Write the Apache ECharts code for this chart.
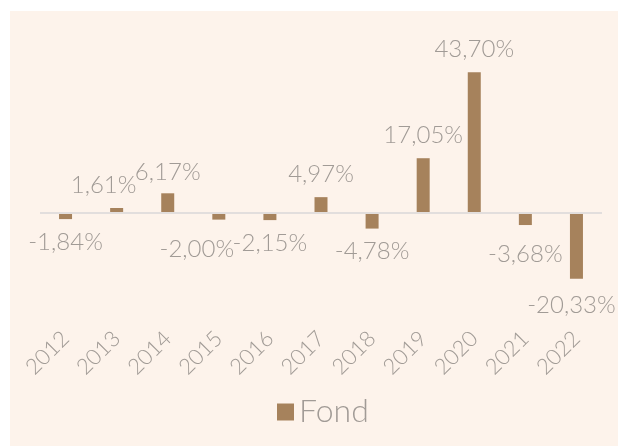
<!DOCTYPE html>
<html>
<head>
<meta charset="utf-8">
<script src="https://cdn.jsdelivr.net/npm/echarts@6/dist/echarts.min.js"></script>
<style>
  html, body { margin: 0; padding: 0; background: #fff; }
  #main { width: 618px; height: 446px; }
</style>
</head>
<body>
<div id="main"></div>
<script>
// data
var years = ['2012', '2013', '2014', '2015', '2016', '2017', '2018', '2019', '2020', '2021', '2022'];
var fond = [-1.84, 1.61, 6.17, -2.00, -2.15, 4.97, -4.78, 17.05, 43.70, -3.68, -20.33];

var textColor = '#a19b96';
var barColor = '#a6825c';

// a few labels were nudged by hand in the original
var labelOffsets = {1: [-13, 0], 2: [0, 2], 3: [-22, 7], 9: [0, 6], 10: [-5, 4]};

var chart = echarts.init(document.getElementById('main'));

var option = {
  backgroundColor: '#fff',
  graphic: [{
    type: 'rect',
    z: -10,
    shape: {x: 10, y: 11, width: 608, height: 435},
    style: {fill: '#fdf3eb'}
  }],
  textStyle: {fontFamily: 'Lato', fontWeight: 300},
  grid: {left: 40, right: 16, top: 52, bottom: 120},
  legend: {
    data: ['Fond'],
    left: 272,
    top: 391,
    itemWidth: 17,
    itemHeight: 17,
    itemGap: 8,
    icon: 'rect',
    textStyle: {color: textColor, fontSize: 32, fontFamily: 'Lato', fontWeight: 300}
  },
  xAxis: {
    type: 'category',
    data: years,
    axisLine: {show: false},
    axisTick: {show: false},
    axisLabel: {
      rotate: 45,
      interval: 0,
      margin: 9,
      color: textColor,
      fontSize: 22,
      fontFamily: 'Lato',
      fontWeight: 300
    }
  },
  yAxis: {
    type: 'value',
    min: -35,
    max: 50,
    show: false,
    splitLine: {show: false}
  },
  series: [{
    name: 'Fond',
    type: 'bar',
    barWidth: 13,
    itemStyle: {color: barColor},
    data: fond.map(function (v, i) {
      var item = {value: v};
      if (labelOffsets[i]) item.label = {offset: labelOffsets[i]};
      return item;
    }),
    label: {
      show: true,
      position: 'top',
      distance: 11,
      color: textColor,
      fontSize: 24,
      fontFamily: 'Lato',
      fontWeight: 300,
      formatter: function (p) {
        return p.value.toFixed(2).replace('.', ',') + '%';
      }
    },
    markLine: {
      silent: true,
      symbol: 'none',
      label: {show: false},
      lineStyle: {color: '#e2dedd', width: 2, type: 'solid'},
      data: [{yAxis: 0}]
    }
  }]
};

// negative bars get their label below the bar end
option.series[0].data.forEach(function (item) {
  if (item.value < 0) {
    item.label = item.label || {};
    item.label.position = 'bottom';
  }
});

chart.setOption(option);
</script>
</body>
</html>
